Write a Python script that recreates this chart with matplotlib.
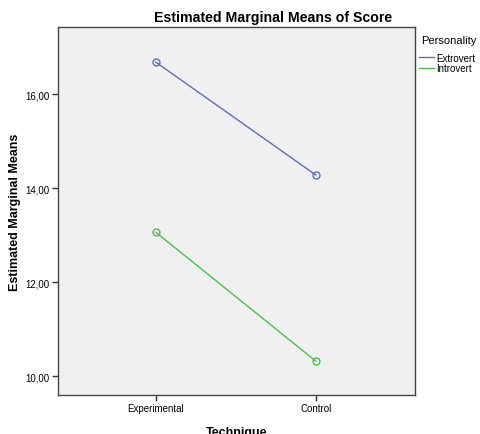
import matplotlib
matplotlib.use("Agg")
import matplotlib.pyplot as plt
from matplotlib.lines import Line2D

plt.rcParams['font.family'] = ['Liberation Sans', 'DejaVu Sans']

technique = ["Experimental", "Control"]
extrovert = [16.68, 14.28]
introvert = [13.06, 10.32]
yticks = [10, 12, 14, 16]

blue = "#5a6fc0"
green = "#4cbf4c"

fig = plt.figure(figsize=(4.8, 4.35), dpi=100)
ax = fig.add_axes([58 / 480, 39 / 435, 357 / 480, 368 / 435])
ax.set_facecolor("#f0f0f0")

x = list(range(len(technique)))
ax.plot(x, extrovert, color=blue, lw=1, marker="o", ms=5, mfc="none", mec=blue, mew=1)
ax.plot(x, introvert, color=green, lw=1, marker="o", ms=5, mfc="none", mec=green, mew=1)

ax.set_xlim(-0.6125, 1.62)
ax.set_ylim(9.6, 17.43)
ax.set_xticks(x)
ax.set_xticklabels(technique, fontsize=7)
ax.set_yticks(yticks)
ax.set_yticklabels([f"{v:.2f}".replace(".", ",") for v in yticks], fontsize=7)
ax.tick_params(length=4, width=1, color="#333333", pad=2)
for s in ax.spines.values():
    s.set_color("#444444")
    s.set_linewidth(1)

ax.set_xlabel("Technique", fontsize=9, fontweight="bold", labelpad=9)
ax.set_ylabel("Estimated Marginal Means", fontsize=9, fontweight="bold", labelpad=3)
fig.text(273 / 480, 1 - 18 / 435, "Estimated Marginal Means of Score",
         ha="center", va="center", fontsize=10.2, fontweight="bold")

fig.text(421 / 480, 1 - 41 / 435, "Personality", ha="left", va="center", fontsize=8)
handles = [Line2D([], [], color=blue, lw=1), Line2D([], [], color=green, lw=1)]
fig.legend(handles, ["Extrovert", "Introvert"], loc="upper left",
           bbox_to_anchor=(415 / 480, 1 - 50 / 435), frameon=False, fontsize=7,
           handlelength=1.6, handletextpad=0.2, labelspacing=0.05, borderaxespad=0)

fig.savefig("out.png", dpi=100)
